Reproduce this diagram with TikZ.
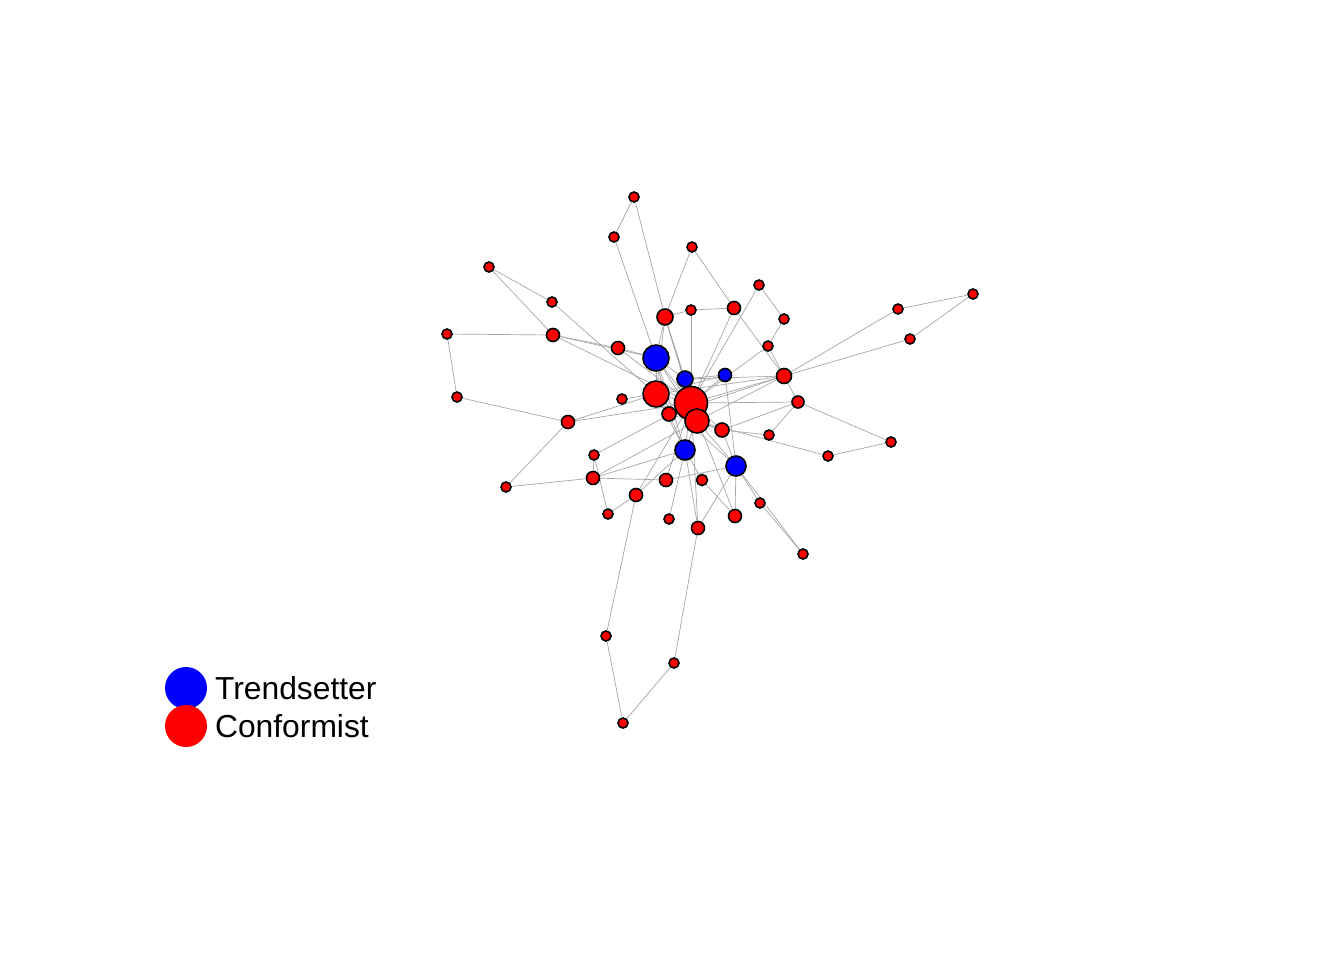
\documentclass[tikz,border=0pt]{standalone}
\usepackage{fontspec}
\setmainfont{Liberation Sans}
\usetikzlibrary{backgrounds}

\begin{document}
\begin{tikzpicture}[
        x=0.5pt, y=-0.5pt,
        vert/.style={circle, draw=black, line width=0.8pt, inner sep=0pt},
        tset/.style={vert, fill=blue},
        conf/.style={vert, fill=red},
        sz/.style={minimum size=#1pt},
        tie/.style={draw=black!35, line width=0.35pt},
        key/.style={circle, inner sep=0pt, minimum size=21pt},
        keytext/.style={anchor=west, font=\fontsize{15.9}{18}\selectfont}
    ]
        \useasboundingbox (0,0) rectangle (1344,960);

        % core
        \node [tset, sz=13] (b1) at (656,358) {};
        \node [conf, sz=13] (r1) at (656,394) {};
        \node [conf, sz=16.5] (r2) at (691,403) {};
        \node [conf, sz=12] (r3) at (697,421) {};
        \node [tset, sz=8] (b2) at (685,379) {};
        \node [tset, sz=6.5] (b3) at (725,375) {};
        \node [tset, sz=10] (b4) at (685,450) {};
        \node [tset, sz=10] (b5) at (736,466) {};
        \node [conf, sz=7] (r4) at (669,414) {};
        \node [conf, sz=7] (r5) at (722,430) {};
        \node [conf, sz=8] (r6) at (665,317) {};
        \node [conf, sz=7.5] (r7) at (784,376) {};
        \node [conf, sz=6] (r8) at (798,402) {};
        \node [conf, sz=5] (r9) at (769,435) {};
        \node [conf, sz=6.5] (r10) at (618,348) {};
        % left side
        \node [conf, sz=6.5] (r11) at (553,335) {};
        \node [conf, sz=5] (r12) at (552,302) {};
        \node [conf, sz=5] (r13) at (489,267) {};
        \node [conf, sz=5] (r14) at (447,334) {};
        \node [conf, sz=5] (r15) at (457,397) {};
        \node [conf, sz=6.5] (r16) at (568,422) {};
        \node [conf, sz=5] (r17) at (622,399) {};
        \node [conf, sz=5] (r18) at (594,455) {};
        \node [conf, sz=6.5] (r19) at (593,478) {};
        \node [conf, sz=5] (r20) at (506,487) {};
        % bottom
        \node [conf, sz=5] (r21) at (608,514) {};
        \node [conf, sz=6.5] (r22) at (636,495) {};
        \node [conf, sz=6.5] (r23) at (666,480) {};
        \node [conf, sz=5] (r24) at (669,519) {};
        \node [conf, sz=5.5] (r25) at (702,480) {};
        \node [conf, sz=6.5] (r26) at (698,528) {};
        \node [conf, sz=6.5] (r27) at (735,516) {};
        \node [conf, sz=5] (r28) at (760,503) {};
        \node [conf, sz=5] (r29) at (803,554) {};
        \node [conf, sz=5] (r43) at (606,636) {};
        \node [conf, sz=5] (r44) at (674,663) {};
        \node [conf, sz=5] (r45) at (623,723) {};
        % right side
        \node [conf, sz=5] (r30) at (828,456) {};
        \node [conf, sz=5] (r31) at (891,442) {};
        \node [conf, sz=5] (r32) at (898,309) {};
        \node [conf, sz=5] (r33) at (910,339) {};
        \node [conf, sz=5] (r34) at (973,294) {};
        % top
        \node [conf, sz=5] (r35) at (634,197) {};
        \node [conf, sz=5] (r36) at (614,237) {};
        \node [conf, sz=5] (r37) at (692,247) {};
        \node [conf, sz=5] (r38) at (691,310) {};
        \node [conf, sz=6.5] (r39) at (734,308) {};
        \node [conf, sz=5] (r40) at (759,285) {};
        \node [conf, sz=5] (r41) at (784,319) {};
        \node [conf, sz=5] (r42) at (768,346) {};

        \begin{scope}[on background layer]
            \foreach \a/\b in {r35/r36, r35/r6, r36/b1, r37/r6, r37/r39, r6/r38, r38/r39, r38/r2,
                r39/r7, r39/r2, r40/r41, r40/r2, r41/r42, r42/r7, r42/r2,
                r7/r32, r7/r33, r32/r34, r33/r34, r7/r8, r7/r2, r7/b2, r7/r3, r7/r4, r7/r1,
                r8/r31, r31/r30, r30/r3, r8/r9, r8/r2, r9/r5, r5/r2, r5/r8,
                r13/r12, r13/r11, r11/r14, r14/r15, r15/r16, r16/r20, r20/r19, r19/r18,
                r18/r21, r21/r22, r22/r43, r43/r45, r45/r44, r44/r26,
                r12/r1, r11/r10, r11/b1, r11/r2, r10/b1, r10/r2, r16/r2, r16/r1, r17/r1,
                r18/r2, r19/b4, r19/r3, r19/r23, r22/b4, r22/r2, r23/r2, r23/b5,
                r24/b4, r25/b4, r25/r27, r26/b4, r26/b5, r26/r2, r27/b5, r27/r2,
                r28/b5, r28/r29, b5/r29, b5/r5, b5/r3, b5/b3, b5/r1,
                b4/r3, b4/r2, b4/r1, b4/b1, b3/r2, b3/b2, b3/r1,
                b1/r1, b1/r2, b1/b2, b1/r3, b1/r4, r1/r2, r1/r3, r1/r4, r2/r3, r2/b2,
                r6/b1, r6/r2, r6/b2, r6/r3, r6/r1, r4/b4, r4/r5, r3/r5}
                \draw [tie] (\a) -- (\b);
        \end{scope}

        % legend
        \node [key, fill=blue] (kt) at (186,688) {};
        \node [key, fill=red] (kc) at (186,726) {};
        \node [keytext] at (208,688) {Trendsetter};
        \node [keytext] at (208,726) {Conformist};
    \end{tikzpicture}
\end{document}
